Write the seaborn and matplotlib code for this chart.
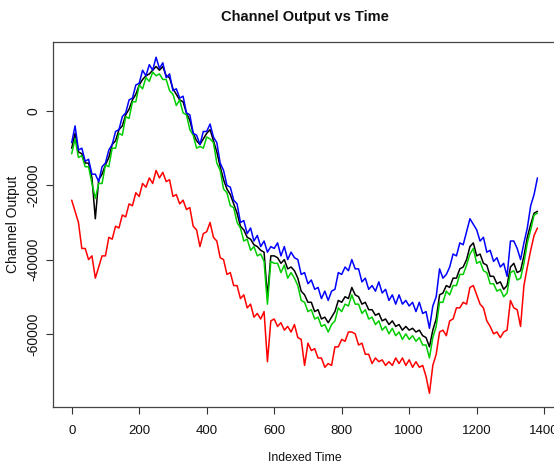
import numpy as np
import pandas as pd
import matplotlib
matplotlib.use("Agg")
import matplotlib.pyplot as plt
import seaborn as sns

# ---- data (values in thousands, sampled every 10 time indices) ----
time_idx = list(range(0, 1381, 10))

blue_k = [-8.5, -4, -10.5, -10, -13.5, -13, -17, -17, -19, -15,
          -14, -10.5, -9, -5.5, -5, -1.5, -0.5, 3, 3.5, 7,
          7.5, 11, 9.5, 12.5, 11, 14.5, 11.5, 13, 9, 10,
          5.5, 6, 3.5, 4, -0.5, -1, -6, -6.5, -9, -5.5,
          -5.5, -3.5, -7, -8.5, -14, -16, -20, -20.5, -24, -25,
          -30, -29.5, -33, -31.5, -35, -33.5, -36.5, -35, -38, -36.5,
          -37, -35.5, -39, -36.5, -40, -38, -39.5, -40, -44, -43.5,
          -46.5, -45.5, -48, -47.5, -50.5, -48.5, -51, -48.5, -48, -43.5,
          -44, -42, -43, -40, -42.5, -42.5, -46, -45, -48, -47,
          -48.5, -46, -49, -48, -51, -49.5, -52, -49.5, -52, -51,
          -52.5, -51.5, -54, -51.5, -54.5, -54, -58.5, -52.5, -50, -42.5,
          -45, -44, -42, -38.5, -39, -35.5, -36, -32.5, -29, -30.5,
          -32, -35, -34, -38, -37.5, -40.5, -39.5, -42, -41, -44.5,
          -35, -35, -37, -40, -35.5, -31.5, -25.5, -22.5, -18]

green_k = [-11.5, -7.5, -12.5, -12, -15, -15, -19.5, -23.5, -19.5, -19.5,
           -14.5, -15, -10, -10, -6, -6.5, -1.5, -2, 2.5, 2.5,
           7, 6, 9, 8, 10.5, 9.5, 10, 8.5, 8.5, 5.5,
           4.5, 1.5, 3, -0.5, -1, -5, -6.5, -10, -9.5, -10,
           -7, -7.5, -8.5, -14, -16, -21, -22, -25.5, -26, -30,
           -31.5, -35, -34.5, -37.5, -36.5, -39, -38.5, -40.5, -52, -40.5,
           -41, -41, -43.5, -41.5, -45, -43.5, -45, -47, -51, -51.5,
           -54, -53.5, -56, -55.5, -58, -57.5, -59.5, -57.5, -56.5, -53,
           -54, -52, -52.5, -49.5, -52, -52, -54.5, -53.5, -56, -55.5,
           -57.5, -56.5, -59, -58, -60, -58.5, -60.5, -59.5, -61.5, -60,
           -61.5, -60.5, -62, -61, -63, -63, -66.5, -61, -58, -51.5,
           -51.5, -48.5, -49.5, -47, -47, -44, -44, -41.5, -38.5, -37,
           -41, -40.5, -43, -43.5, -46.5, -46.5, -48.5, -48, -50, -49,
           -43.5, -43, -45.5, -45, -41, -35.5, -32, -28, -27.5]

black_k = [-10, -6, -11, -11.5, -14, -14, -18, -29, -18.5, -17,
           -14.5, -12.5, -9, -8, -5, -4, -1, 0.5, 3, 4.5,
           7, 8.5, 9.5, 10, 11, 12, 11, 12, 9.5, 9,
           6, 4.5, 3, 2.5, -0.5, -2.5, -6, -8, -9, -7.5,
           -6, -5, -8, -11, -15, -18.5, -21, -22.5, -25, -27.5,
           -31, -32, -34, -34.5, -36, -36.5, -37.5, -38, -50, -39,
           -39, -39.5, -41, -40, -42.5, -42, -43, -45, -48.5, -49.5,
           -51.5, -51.5, -54, -53.5, -56, -55.5, -57, -55.5, -54, -51,
           -51.5, -50, -50.5, -47.5, -49.5, -50, -52, -51.5, -53.5, -53.5,
           -55, -54.5, -56.5, -56, -57.5, -56.5, -58, -57.5, -59, -58,
           -59, -58.5, -59.5, -59, -60.5, -61, -63.5, -59, -56, -49.5,
           -49, -47, -47.5, -45, -45, -42.5, -42, -40, -36.5, -35.5,
           -39, -38.5, -41, -41.5, -44.5, -44.5, -46.5, -46, -48, -47,
           -42, -41, -43.5, -43, -39, -34, -30.5, -27.5, -27]

red_k = [-24, -27, -30, -37, -37, -40, -39, -45, -42, -39,
         -39, -34, -34.5, -31, -31.5, -28, -28.5, -25, -25.5, -22,
         -23, -19.5, -20.5, -18, -19.5, -16, -18, -16.5, -19, -18.5,
         -23, -22.5, -25, -24, -26.5, -26, -31, -32, -36.5, -33,
         -32.5, -30, -34, -35, -39.5, -40, -44, -43.5, -47, -47,
         -50.5, -49.5, -53, -52, -55.5, -54.5, -56, -54, -67.5, -56.5,
         -56, -58, -57, -59, -58, -59.5, -57.5, -61, -61.5, -68.5,
         -62.5, -64.5, -64, -66.5, -66.5, -69, -68, -68.5, -63.5, -63.5,
         -61.5, -62, -59.5, -59.5, -60, -63, -62.5, -65.5, -65.5, -68,
         -66.5, -67.5, -67, -68.5, -67.5, -68.5, -66.5, -68, -66.5, -68.5,
         -67, -69, -67.5, -69, -68.5, -71.5, -76, -68.5, -65.5, -59.5,
         -59, -60.5, -56.5, -56, -53, -53, -51.5, -52, -47.5, -47,
         -49.5, -52, -53, -56.5, -58, -60, -59.5, -61, -59.5, -59,
         -51, -53, -53.5, -58, -47, -42, -37.5, -33.5, -31.5]

series_names = ["black", "red", "green", "blue"]
series_vals = [black_k, red_k, green_k, blue_k]
series_colors = {"black": "#000000", "red": "#FF0000",
                 "green": "#00CD00", "blue": "#0000FF"}

frames = []
for name, vals in zip(series_names, series_vals):
    frames.append(pd.DataFrame({"time": time_idx,
                                "output": np.array(vals) * 1000.0,
                                "channel": name}))
df = pd.concat(frames, ignore_index=True)

# ---- figure ----
sns.set_theme(style="white")
plt.rcParams["font.family"] = ["Liberation Sans", "DejaVu Sans"]
plt.rcParams["axes.unicode_minus"] = False

W, H = 554, 465
fig = plt.figure(figsize=(W / 100, H / 100), dpi=100)
fig.patch.set_facecolor("white")
left_px, right_px, top_px, bot_px = 53, 556, 42, 407
ax = fig.add_axes([left_px / W, 1 - bot_px / H,
                   (right_px - left_px) / W, (bot_px - top_px) / H])

sns.lineplot(data=df, x="time", y="output", hue="channel",
             hue_order=series_names, palette=series_colors,
             estimator=None, sort=False, linewidth=1.1, legend=False, ax=ax)

ax.set_xlim(-55.4, 1435)
ax.set_ylim(-79700, 18600)

xt = [0, 200, 400, 600, 800, 1000, 1200, 1400]
yt = [-60000, -40000, -20000, 0]
ax.set_xticks(xt)
ax.set_xticklabels([str(v) for v in xt])
ax.set_yticks(yt)
ax.set_yticklabels([str(v) for v in yt], rotation=90, va="center")

ax.tick_params(axis="both", direction="out", length=4.7, width=0.8,
               color="#333333", labelcolor="#111111", bottom=True, left=True)
ax.tick_params(axis="x", labelsize=9.5, pad=8)
ax.tick_params(axis="y", labelsize=10, pad=4.3)
for sp in ax.spines.values():
    sp.set_visible(True)
    sp.set_color("#444444")
    sp.set_linewidth(0.9)

ax.set_xlabel("Indexed Time", fontsize=8.8, labelpad=11, color="#111111")
ax.set_ylabel("Channel Output", fontsize=10, labelpad=4.5, color="#111111")
ax.grid(False)

fig.text(305 / W, 1 - 17 / H, "Channel Output vs Time", ha="center",
         va="center", fontsize=10.5, fontweight="bold", color="#111111")

fig.savefig("out.png", dpi=100, facecolor="white")
